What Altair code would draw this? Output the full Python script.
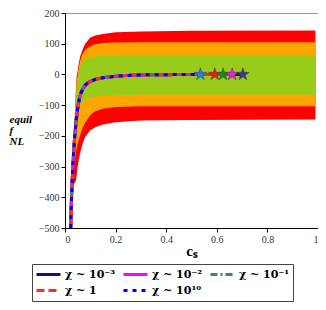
import altair as alt
import pandas as pd

# ---- band data ----
c_band = [0.027, 0.030, 0.034, 0.037, 0.040, 0.043, 0.046, 0.050, 0.055, 0.060, 0.070, 0.080, 0.100, 0.120, 0.150, 0.200, 0.300, 0.500, 0.990]
red_top = [-380, -300, -230, -170, -110, -50, -5, 10, 40, 58, 82, 100, 120, 127, 132, 137, 140, 142, 143]
orange_top = [-380, -305, -240, -180, -130, -70, -20, -5, 25, 45, 68, 80, 92, 98, 102, 104, 105, 105, 105]
green_top = [-380, -310, -250, -195, -150, -95, -45, -20, 8, 25, 42, 50, 56, 59, 61, 62, 62, 62, 62]
green_bot = [-380, -330, -285, -250, -215, -185, -160, -135, -115, -105, -88, -80, -75, -72, -70, -68, -66, -66, -66]
orange_bot = [-380, -350, -320, -295, -275, -255, -240, -225, -211, -198, -174, -157, -133, -120, -112, -106, -104, -104, -104]
red_bot = [-385, -375, -362, -355, -350, -346, -328, -303, -275, -256, -225, -203, -182, -172, -163, -156, -150, -148, -147]

# ---- central curve ----
c_line = [0.0225, 0.025, 0.028, 0.031, 0.034, 0.038, 0.043, 0.047, 0.052, 0.057, 0.061, 0.070, 0.080, 0.094, 0.120, 0.155, 0.210, 0.280, 0.350, 0.450, 0.550, 0.650, 0.703]
f_line = [-500, -420, -355, -300, -255, -205, -160, -130, -100, -78, -65, -48, -35, -25, -16, -10, -5, -2, -1, -0.5, -0.3, -0.1, 0]

series = ["χ ~ 10⁻³", "χ ~ 10⁻²", "χ ~ 10⁻¹", "χ ~ 1", "χ ~ 10¹⁰"]
series_end = [0.703, 0.661, 0.625, 0.592, 0.535]
line_colors = ["#0b1a66", "#ff00ff", "#2e8b6a", "#ff2a2a", "#0000ff"]
line_dash = [[1, 0], [1, 0], [7, 3, 2, 3], [8, 4], [4, 5]]
line_width = [3, 3, 1.5, 2, 4.5]

star_c = [0.535, 0.592, 0.625, 0.661, 0.703]
star_f = [0, 0, 0, 0, 0]
star_colors = ["#1e80e8", "#e0201c", "#1a8a1a", "#e81ee8", "#3a3f8a"]

# ---- tables ----
band_df = pd.DataFrame({
    "c": c_band, "red_top": red_top, "orange_top": orange_top, "green_top": green_top,
    "green_bot": green_bot, "orange_bot": orange_bot, "red_bot": red_bot,
})

rows = []
for s, end in zip(series, series_end):
    for c, f in zip(c_line, f_line):
        if c < end:
            rows.append({"c": c, "f": f, "series": s})
    rows.append({"c": end, "f": 0, "series": s})
line_df = pd.DataFrame(rows)

star_df = pd.DataFrame({"c": star_c, "f": star_f, "col": star_colors})

xs = alt.Scale(domain=[0, 1], nice=False)
ys = alt.Scale(domain=[-500, 200], nice=False)

xaxis = alt.Axis(values=[0, 0.2, 0.4, 0.6, 0.8, 1], labelExpr="datum.value", title="cₛ",
                 grid=False, tickSize=4, domainColor="black", tickColor="black",
                 labelFont="Liberation Serif", labelFontSize=10, labelColor="#333",
                 labelOverlap=False,
                 titleFont="Liberation Serif", titleFontSize=15, titleFontWeight="bold",
                 titleColor="black", titlePadding=-1)
yaxis = alt.Axis(values=list(range(-500, 201, 100)), title=["\u00a0\u00a0equil", "f", "\u00a0\u00a0NL"],
                 grid=False, tickSize=4, domainColor="black", tickColor="black",
                 labelFont="Liberation Serif", labelFontSize=10, labelColor="#333",
                 labelOverlap=False,
                 titleFont="Liberation Serif", titleFontSize=11, titleFontWeight="bold",
                 titleFontStyle="italic", titleColor="black", titleAngle=0, titleAlign="left",
                 titleLineHeight=11, titleX=-56, titleY=106, titleBaseline="middle")

base = alt.Chart(band_df)
red = base.mark_area(color="#ff0000", clip=True).encode(
    x=alt.X("c:Q", scale=xs, axis=xaxis), y=alt.Y("red_bot:Q", scale=ys, axis=yaxis), y2="red_top:Q")
orange = base.mark_area(color="#ffa500", clip=True).encode(
    x=alt.X("c:Q", scale=xs, axis=xaxis), y=alt.Y("orange_bot:Q", scale=ys, axis=yaxis), y2="orange_top:Q")
green = base.mark_area(color="#99cc1a", clip=True).encode(
    x=alt.X("c:Q", scale=xs, axis=xaxis), y=alt.Y("green_bot:Q", scale=ys, axis=yaxis), y2="green_top:Q")

lines = alt.Chart(line_df).mark_line(clip=True, strokeCap="butt").encode(
    x=alt.X("c:Q", scale=xs, axis=xaxis),
    y=alt.Y("f:Q", scale=ys, axis=yaxis),
    color=alt.Color("series:O", sort=series, scale=alt.Scale(domain=series, range=line_colors),
                    legend=alt.Legend(title=None)),
    strokeDash=alt.StrokeDash("series:O", sort=series, scale=alt.Scale(domain=series, range=line_dash),
                              legend=alt.Legend(title=None)),
    strokeWidth=alt.StrokeWidth("series:O", sort=series, scale=alt.Scale(domain=series, range=line_width),
                                legend=alt.Legend(title=None)),
    order=alt.Order("c:Q"),
)

star_path = "M0,-1L0.2245,-0.309L0.9511,-0.309L0.3633,0.118L0.5878,0.809L0,0.382L-0.5878,0.809L-0.3633,0.118L-0.9511,-0.309L-0.2245,-0.309Z"
stars = alt.Chart(star_df).mark_point(shape=star_path, filled=True, size=180, opacity=1,
                                      stroke="#333", strokeWidth=0.4).encode(
    x=alt.X("c:Q", scale=xs, axis=xaxis), y=alt.Y("f:Q", scale=ys, axis=yaxis),
    color=alt.Color("col:N", scale=None),
)

chart = alt.layer(red, orange, green, lines, stars).properties(
    width=253, height=215,
    autosize=alt.AutoSizeParams(type="none"),
    padding={"left": 57, "top": 5, "right": 0, "bottom": 74},
).configure_view(stroke="#999", strokeWidth=1).configure_axis(
    labelOverlap=False
).configure_legend(
    orient="none", legendX=-33, legendY=251, columns=3, direction="horizontal",
    symbolType="stroke", symbolSize=576, clipHeight=15, columnPadding=6, rowPadding=1,
    labelOffset=3,
    labelFont="DejaVu Serif", labelFontSize=11, labelFontWeight="bold", labelColor="black",
    labelLimit=200, padding=3, strokeColor="#444", fillColor="white", symbolOffset=0,
)

chart.save("out.html", embed_options={"renderer": "svg", "actions": False})
